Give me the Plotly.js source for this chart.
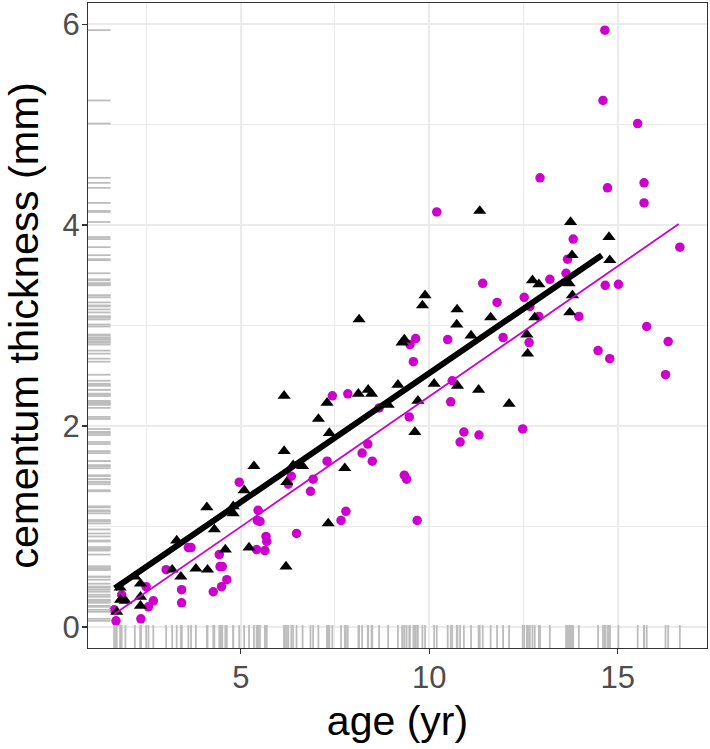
<!DOCTYPE html>
<html>
<head>
<meta charset="utf-8">
<script src="https://cdn.plot.ly/plotly-3.0.1.min.js"></script>
<style>html,body{margin:0;padding:0;background:#fff;}#chart{width:710px;height:749px;}</style>
</head>
<body>
<div id="chart"></div>
<script>
// Group A (black triangles): age (yr) and cementum thickness (mm)
var ageA = [1.71,1.80,1.81,1.94,2.19,2.34,2.34,2.34,3.18,3.30,3.41,3.81,4.12,4.10,4.30,4.59,4.80,4.80,5.09,5.22,
            5.35,6.15,6.15,6.22,6.20,6.39,6.64,7.06,7.29,7.32,7.35,7.76,8.12,8.14,8.38,8.47,8.91,9.17,9.28,9.34,
            9.62,9.70,9.82,9.89,10.13,10.73,10.74,10.75,11.11,11.31,11.34,11.63,12.12,12.59,12.61,12.74,12.80,12.91,13.71,13.73,
            13.75,13.79,13.80,14.77,14.79];
var thickA = [0.15,0.39,0.27,0.26,0.50,0.43,0.30,0.21,0.57,0.86,0.50,0.58,0.57,1.19,0.97,0.77,1.20,1.13,1.36,0.79,
              1.60,2.30,1.75,1.44,0.60,1.61,1.60,2.07,2.23,1.03,1.93,1.58,2.32,3.06,2.36,2.32,2.21,2.41,2.83,2.86,
              1.94,2.25,3.20,3.30,2.42,3.01,3.16,2.40,2.90,2.36,4.14,3.08,2.22,2.91,2.72,3.45,3.08,3.41,3.42,3.13,
              4.03,3.70,3.30,3.88,3.65];
// Group B (magenta circles)
var ageB = [14.66,14.61,15.53,12.94,14.73,15.70,15.70,10.20,13.82,13.67,16.65,11.42,13.20,13.63,14.67,15.02,11.80,12.52,12.67,12.91,
            13.97,11.96,12.65,15.77,16.34,14.48,14.79,16.27,10.49,9.64,9.49,9.58,7.43,7.84,10.61,10.57,8.67,9.47,10.92,11.32,
            10.82,8.37,12.48,8.22,8.49,9.34,9.40,7.79,7.66,9.68,4.96,6.34,6.26,7.29,6.92,6.85,5.46,5.44,5.51,5.67,
            5.69,6.48,5.42,5.64,3.61,3.68,4.43,3.02,4.45,4.51,4.63,4.49,4.27,2.49,3.43,3.43,2.68,2.55,2.35,1.69,
            1.64,1.84];
var thickB = [5.94,5.24,5.01,4.47,4.37,4.42,4.22,4.13,3.86,3.66,3.78,3.42,3.46,3.52,3.40,3.41,3.23,3.28,3.19,3.09,
              3.09,2.88,2.83,2.99,2.84,2.75,2.67,2.51,2.86,2.87,2.81,2.64,2.30,2.32,2.45,2.24,2.18,2.09,1.94,1.91,
              1.84,1.82,1.97,1.73,1.65,1.51,1.47,1.15,1.06,1.06,1.44,1.50,1.42,1.65,1.47,1.35,1.16,1.06,1.05,0.90,
              0.85,0.93,0.77,0.76,0.79,0.79,0.72,0.57,0.60,0.60,0.47,0.40,0.35,0.40,0.37,0.24,0.26,0.20,0.08,0.06,
              0.17,0.32];
// Fitted model lines (end points)
var fitAgeA = [1.66, 14.58];
var fitThickA = [0.385, 3.70];
var fitAgeB = [1.62, 16.62];
var fitThickB = [0.12, 4.01];
var xTicks = [5, 10, 15];
var yTicks = [0, 2, 4, 6];

var allAge = ageA.concat(ageB);
var allThick = thickA.concat(thickB);
var rugCol = '#BDBDBD';

var traces = [
  {type:'scatter', mode:'markers', x: allAge, y: allAge.map(function(){return 0.015;}), xaxis:'x', yaxis:'y2',
   marker:{symbol:'line-ns-open', size:19, color:rugCol, line:{color:rugCol, width:1.8}}, hoverinfo:'skip', showlegend:false},
  {type:'scatter', mode:'markers', y: allThick, x: allThick.map(function(){return 0.015;}), xaxis:'x2', yaxis:'y',
   marker:{symbol:'line-ew-open', size:19, color:rugCol, line:{color:rugCol, width:1.8}}, hoverinfo:'skip', showlegend:false},
  {type:'scatter', mode:'markers', x: ageB, y: thickB, marker:{symbol:'circle', size:9.5, color:'#CD00CD'}, showlegend:false},
  {type:'scatter', mode:'markers', x: ageA, y: thickA, marker:{symbol:'triangle-up', size:11.5, color:'#000000'}, showlegend:false},
  {type:'scatter', mode:'lines', x: fitAgeB, y: fitThickB, line:{color:'#CD00CD', width:1.8}, showlegend:false},
  {type:'scatter', mode:'lines', x: fitAgeA, y: fitThickA, line:{color:'#000000', width:6}, showlegend:false},
  // helper trace (invisible) so the label axes are created
  {type:'scatter', mode:'markers', x: ageA.slice(0,1), y: thickA.slice(0,1), xaxis:'x3', yaxis:'y3',
   marker:{opacity:0}, hoverinfo:'skip', showlegend:false}
];

var font = 'Liberation Sans, Arial, sans-serif';
var xRange = [0.947, 17.37], yRange = [-0.21, 6.21];
var layout = {
  width: 710, height: 749,
  margin: {l: 88, r: 3, t: 3, b: 101},
  paper_bgcolor: '#ffffff', plot_bgcolor: '#ffffff',
  showlegend: false,
  font: {family: font},
  xaxis: {
    range: xRange, tickvals: xTicks, showticklabels: false,
    showgrid: true, gridcolor: '#EBEBEB', gridwidth: 2,
    minor: {dtick: 2.5, tick0: 0, showgrid: true, gridcolor: '#EBEBEB', gridwidth: 1},
    zeroline: false, showline: true, mirror: true, linecolor: '#333333', linewidth: 1.2,
    ticks: 'outside', ticklen: 5, tickwidth: 1.2, tickcolor: '#333333'
  },
  yaxis: {
    range: yRange, tickvals: yTicks, showticklabels: false,
    showgrid: true, gridcolor: '#EBEBEB', gridwidth: 2,
    minor: {dtick: 1, tick0: 0, showgrid: true, gridcolor: '#EBEBEB', gridwidth: 1},
    zeroline: false, showline: true, mirror: true, linecolor: '#333333', linewidth: 1.2,
    ticks: 'outside', ticklen: 5, tickwidth: 1.2, tickcolor: '#333333'
  },
  xaxis2: {overlaying: 'x', range: [0, 1], visible: false, fixedrange: true},
  yaxis2: {overlaying: 'y', range: [0, 1], visible: false, fixedrange: true},
  // label axes (tick labels + titles)
  xaxis3: {overlaying: 'x', anchor: 'free', position: 0, side: 'bottom',
           range: xRange, tickvals: xTicks, ticktext: xTicks.map(String),
           showgrid: false, zeroline: false, showline: false,
           ticks: 'outside', ticklen: 2, tickcolor: 'rgba(0,0,0,0)',
           tickfont: {size: 31, color: '#4D4D4D', family: font},
           title: {text: 'age (yr)', font: {size: 41, color: '#000000', family: font}, standoff: 12}},
  yaxis3: {overlaying: 'y', anchor: 'free', position: 0, side: 'left',
           range: yRange, tickvals: yTicks, ticktext: yTicks.map(String),
           showgrid: false, zeroline: false, showline: false,
           ticks: 'outside', ticklen: 2, tickcolor: 'rgba(0,0,0,0)',
           tickfont: {size: 31, color: '#4D4D4D', family: font},
           title: {text: 'cementum thickness (mm)', font: {size: 41.5, color: '#000000', family: font}, standoff: 13}}
};

Plotly.newPlot('chart', traces, layout, {displayModeBar: false, staticPlot: true});
</script>
</body>
</html>
